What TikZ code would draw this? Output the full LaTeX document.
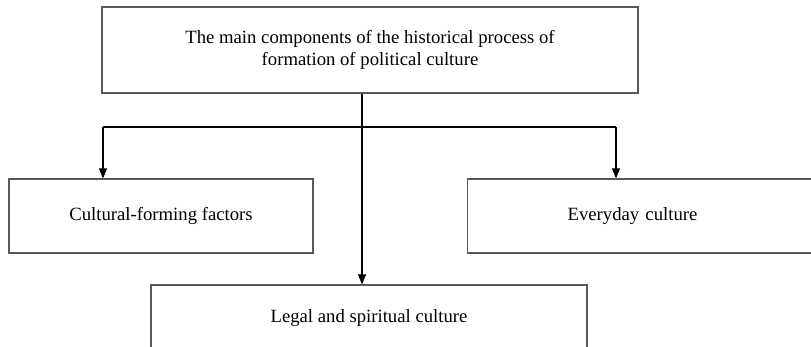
\documentclass[tikz,border=0pt]{standalone}
\usepackage{fontspec}
\setmainfont{Liberation Serif}
\usetikzlibrary{arrows.meta, positioning}

\begin{document}
\begin{tikzpicture}[
    x=1pt, y=-1pt,
    font=\fontsize{18.7}{22}\selectfont,
    box/.style={draw=black!65, line width=1.2pt, rectangle, inner sep=0pt},
    link/.style={draw=black, line width=1.1pt},
    arr/.style={link, -{Triangle[length=10pt, width=8pt]}}
]

   % Page
   \useasboundingbox (0,0) rectangle (811,347);
   \clip (0,0) rectangle (811,347);

   % Boxes
   \node[box, minimum width=536, minimum height=86, align=center] (top) at (370,50)
      {The main components of the historical process of\\formation of political culture};
   \node[box, minimum width=304, minimum height=74] (factors) at (161,216) {Cultural-forming factors};
   \node[box, anchor=west, minimum height=74, inner xsep=100pt, text width=163pt, align=left] (everyday) at (467,216) {Everyday culture};
   \node[box, minimum width=436, minimum height=66] (legal) at (369,318) {Legal and spiritual culture};

   % Branch points
   \coordinate (stem) at (362,127);
   \coordinate (bl) at (103,127);
   \coordinate (br) at (616,127);

   % Arrows
   \draw[arr] (stem |- top.south) -- (stem |- legal.north);
   \draw[link] (bl) -- (br);
   \draw[arr] (bl) -- (bl |- factors.north);
   \draw[arr] (br) -- (br |- everyday.north);
\end{tikzpicture}
\end{document}
